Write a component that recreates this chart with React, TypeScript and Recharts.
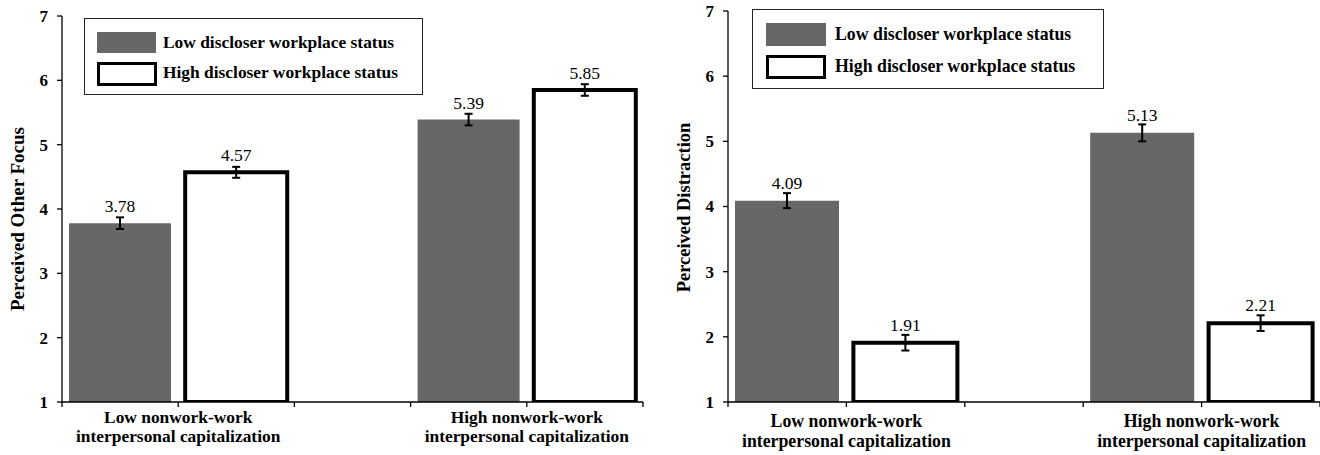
import React from 'react';
import { BarChart, Bar, XAxis, YAxis, Cell, ErrorBar, LabelList, Legend } from 'recharts';

// x-axis groups, each label is two lines
const GROUPS = [
  ['Low nonwork-work', 'interpersonal capitalization'],
  ['High nonwork-work', 'interpersonal capitalization'],
];
const STATUS_LABELS = ['Low discloser workplace status', 'High discloser workplace status'];
const Y_TICKS = [1, 2, 3, 4, 5, 6, 7];

// left panel: perceived other focus
const FOCUS_LOW = [3.78, 5.39];
const FOCUS_HIGH = [4.57, 5.85];
const FOCUS_LOW_ERR = [0.09, 0.09];
const FOCUS_HIGH_ERR = [0.085, 0.09];

// right panel: perceived distraction
const DISTRACTION_LOW = [4.09, 5.13];
const DISTRACTION_HIGH = [1.91, 2.21];
const DISTRACTION_LOW_ERR = [0.115, 0.13];
const DISTRACTION_HIGH_ERR = [0.12, 0.12];

const FONT = '"Liberation Serif", "Times New Roman", serif';
const GRAY = '#676767';

type Row = {
  key: string;
  value: number | null;
  err: number | null;
  status: 'low' | 'high' | null;
  group: number | null;
};

// one bar per category slot, with an empty slot between the two groups (Excel style)
function buildRows(low: number[], high: number[], lowErr: number[], highErr: number[]): Row[] {
  const rows: Row[] = [];
  GROUPS.forEach((_, g) => {
    if (g > 0) rows.push({ key: `gap${g}`, value: null, err: null, status: null, group: null });
    rows.push({ key: `g${g}-low`, value: low[g], err: lowErr[g], status: 'low', group: g });
    rows.push({ key: `g${g}-high`, value: high[g], err: highErr[g], status: 'high', group: g });
  });
  return rows;
}

type Layout = {
  left: number;
  width: number;
  height: number;
  marginTop: number;
  marginRight: number;
  yAxisWidth: number;
  labelSize: number;
  titleSize: number;
  titleX: number;
  titleShift: number;
  groupDy: number;
  groupGap: number;
  valueOffset: number;
  legend: {
    left: number;
    top: number;
    w: number;
    h: number;
    swatchX: number;
    textX: number;
    swatches: { y: number; w: number; h: number }[];
    rows: number[];
  };
};

const LEFT_LAYOUT: Layout = {
  left: 0,
  width: 660,
  height: 455,
  marginTop: 16,
  marginRight: 17,
  yAxisWidth: 62,
  labelSize: 17.4,
  titleSize: 19,
  titleX: 17.5,
  titleShift: 10,
  groupDy: 21,
  groupGap: 19,
  valueOffset: 11,
  legend: {
    left: 84,
    top: 18,
    w: 339,
    h: 77,
    swatchX: 12,
    textX: 78,
    swatches: [
      { y: 13, w: 59, h: 21 },
      { y: 43, w: 60, h: 24 },
    ],
    rows: [23, 53],
  },
};

const RIGHT_LAYOUT: Layout = {
  left: 660,
  width: 660,
  height: 455,
  marginTop: 11,
  marginRight: 0,
  yAxisWidth: 68,
  labelSize: 17.8,
  titleSize: 18.5,
  titleX: 24,
  titleShift: 1,
  groupDy: 25,
  groupGap: 20,
  valueOffset: 12,
  legend: {
    left: 752,
    top: 9,
    w: 352,
    h: 80,
    swatchX: 13,
    textX: 82,
    swatches: [
      { y: 13, w: 60, h: 23 },
      { y: 45, w: 60, h: 24 },
    ],
    rows: [24, 56],
  },
};

function StatusLegend({ layout }: { layout: Layout }) {
  const lg = layout.legend;
  return (
    <div
      style={{
        position: 'relative',
        width: lg.w,
        height: lg.h,
        boxSizing: 'border-box',
        border: '1px solid #222',
        background: '#fff',
        fontFamily: FONT,
        fontWeight: 'bold',
        fontSize: layout.labelSize,
        color: '#000',
      }}
    >
      {STATUS_LABELS.map((label, i) => {
        const sw = lg.swatches[i];
        return (
          <React.Fragment key={label}>
            <div
              style={{
                position: 'absolute',
                left: lg.swatchX,
                top: sw.y,
                width: sw.w,
                height: sw.h,
                boxSizing: 'border-box',
                background: i === 0 ? GRAY : '#fff',
                border: i === 0 ? 'none' : '3px solid #000',
              }}
            />
            <div
              style={{
                position: 'absolute',
                left: lg.textX,
                top: lg.rows[i] - 10,
                lineHeight: '20px',
                whiteSpace: 'nowrap',
              }}
            >
              {label}
            </div>
          </React.Fragment>
        );
      })}
    </div>
  );
}

function ValueTick(props: any) {
  const { x, y, payload } = props;
  return (
    <text
      x={x}
      y={y}
      dy="0.35em"
      textAnchor="end"
      fill="#000"
      fontFamily={FONT}
      fontWeight="bold"
      fontSize={17}
    >
      {payload.value}
    </text>
  );
}

function GroupTick(props: any) {
  const { x, y, payload, rows, band, layout } = props;
  const idx = props.index ?? payload.index;
  const row: Row = rows[idx];
  const left = x - band / 2;
  const right = x + band / 2;
  return (
    <g>
      <line x1={left} x2={left} y1={y} y2={y + 5} stroke="#000" strokeWidth={1.3} />
      {idx === rows.length - 1 && (
        <line x1={right} x2={right} y1={y} y2={y + 5} stroke="#000" strokeWidth={1.3} />
      )}
      {row && row.status === 'high' && row.group !== null && (
        <text
          x={left}
          y={y + layout.groupDy}
          textAnchor="middle"
          fill="#000"
          fontFamily={FONT}
          fontWeight="bold"
          fontSize={layout.labelSize}
        >
          <tspan x={left}>{GROUPS[row.group][0]}</tspan>
          <tspan x={left} dy={layout.groupGap}>
            {GROUPS[row.group][1]}
          </tspan>
        </text>
      )}
    </g>
  );
}

function AxisTitle({ viewBox, title, layout }: any) {
  const vb = viewBox || { y: layout.marginTop, height: layout.height - layout.marginTop - 53 };
  const cx = layout.titleX;
  const cy = vb.y + vb.height / 2 + layout.titleShift;
  return (
    <text
      x={cx}
      y={cy}
      dy="0.35em"
      textAnchor="middle"
      transform={`rotate(-90, ${cx}, ${cy})`}
      fill="#000"
      fontFamily={FONT}
      fontWeight="bold"
      fontSize={layout.titleSize}
    >
      {title}
    </text>
  );
}

function InteractionChart({ rows, title, layout }: { rows: Row[]; title: string; layout: Layout }) {
  const band = (layout.width - layout.yAxisWidth - layout.marginRight) / rows.length;
  return (
    <div style={{ position: 'absolute', left: layout.left, top: 0 }}>
      <BarChart
        width={layout.width}
        height={layout.height}
        data={rows}
        margin={{ top: layout.marginTop, right: layout.marginRight, bottom: 0, left: 0 }}
        barCategoryGap={7}
      >
        <XAxis
          dataKey="key"
          height={53}
          interval={0}
          tickLine={false}
          tickSize={0}
          tickMargin={0}
          axisLine={{ stroke: '#000', strokeWidth: 1.3 }}
          tick={(p: any) => <GroupTick {...p} rows={rows} band={band} layout={layout} />}
        />
        <YAxis
          type="number"
          domain={[1, 7]}
          ticks={Y_TICKS}
          allowDataOverflow
          width={layout.yAxisWidth}
          tickSize={5}
          tickMargin={9}
          axisLine={{ stroke: '#000', strokeWidth: 1.3 }}
          tickLine={{ stroke: '#000', strokeWidth: 1.3 }}
          tick={(p: any) => <ValueTick {...p} />}
          label={{ value: title, content: (p: any) => <AxisTitle {...p} title={title} layout={layout} /> }}
        />
        <Legend
          layout="vertical"
          align="center"
          verticalAlign="middle"
          wrapperStyle={{
            left: layout.legend.left - layout.left,
            top: layout.legend.top,
            width: layout.legend.w,
            height: layout.legend.h,
          }}
          content={() => <StatusLegend layout={layout} />}
        />
        <Bar dataKey="value" isAnimationActive={false}>
          {rows.map((r) => (
            <Cell
              key={r.key}
              fill={r.status === 'low' ? GRAY : '#fff'}
              stroke={r.status === 'high' ? '#000' : 'none'}
              strokeWidth={r.status === 'high' ? 4 : 0}
            />
          ))}
          <ErrorBar dataKey="err" direction="y" width={4} strokeWidth={2} stroke="#000" />
          <LabelList
            dataKey="value"
            position="top"
            offset={layout.valueOffset}
            fill="#000"
            fontSize={17.5}
            fontFamily={FONT}
          />
        </Bar>
      </BarChart>
    </div>
  );
}

export default function App() {
  const focusRows = buildRows(FOCUS_LOW, FOCUS_HIGH, FOCUS_LOW_ERR, FOCUS_HIGH_ERR);
  const distractionRows = buildRows(
    DISTRACTION_LOW,
    DISTRACTION_HIGH,
    DISTRACTION_LOW_ERR,
    DISTRACTION_HIGH_ERR
  );
  return (
    <div
      style={{
        position: 'absolute',
        left: 0,
        top: 0,
        width: 1320,
        height: 455,
        background: '#fff',
        overflow: 'hidden',
      }}
    >
      <InteractionChart rows={focusRows} title="Perceived Other Focus" layout={LEFT_LAYOUT} />
      <InteractionChart rows={distractionRows} title="Perceived Distraction" layout={RIGHT_LAYOUT} />
    </div>
  );
}
